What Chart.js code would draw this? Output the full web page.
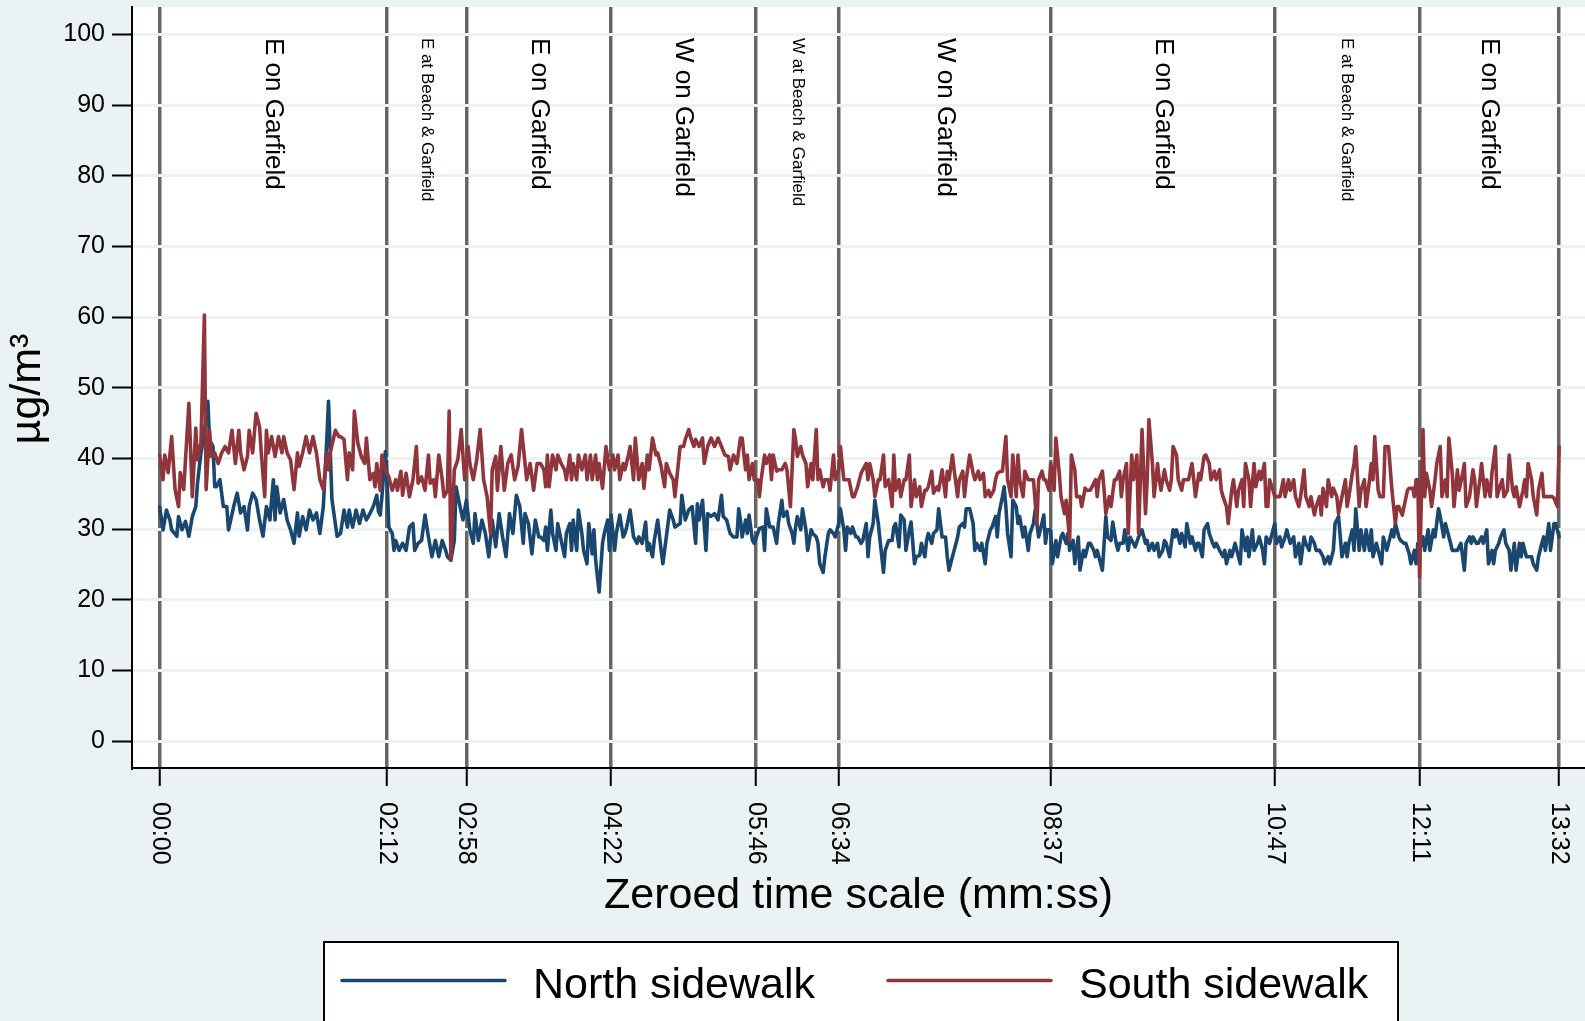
<!DOCTYPE html>
<html>
<head>
<meta charset="utf-8">
<title>Sidewalk PM readings</title>
<script src="https://cdn.jsdelivr.net/npm/chart.js@4.4.1/dist/chart.umd.min.js"></script>
<style>
  html, body { margin: 0; padding: 0; background: #eaf2f3; }
  #chart { display: block; }
</style>
</head>
<body>
<canvas id="chart" width="1585" height="1021"></canvas>
<script>
// Route segment boundaries (seconds) and their axis labels
const markSec = [0, 132, 178, 262, 346, 394, 517, 647, 731, 812];
const markLabels = ['00:00', '02:12', '02:58', '04:22', '05:46', '06:34', '08:37', '10:47', '12:11', '13:32'];
const segmentNames = ['E on Garfield', 'E at Beach & Garfield', 'E on Garfield', 'W on Garfield',
  'W at Beach & Garfield', 'W on Garfield', 'E on Garfield', 'E at Beach & Garfield', 'E on Garfield'];
const yTicks = [0, 10, 20, 30, 40, 50, 60, 70, 80, 90, 100];

// [seconds, µg/m³]
const northReadings = [
  [0,33.2],[2,29.9],[4,32.7],[6,31.3],[7,29.9],[10,29],[11,31.8],[13,29.9],[15,31.1],[17,29],[19,31.8],[21,33.2],[22,36.5],[24,40.8],[26,43.6],[28,48.1],[29,42.6],[31,41.7],[32,36],[33,36],[35,37],[37,33.2],[39,33.2],[40,29.9],[43,33.2],[45,35.1],[47,32.3],[49,33.2],[51,29.9],[52,33.2],[54,35.1],[56,34.2],[58,31.3],[60,29],[62,33.2],[64,31.3],[66,37],[67,31.3],[68,36],[70,32.3],[72,34.2],[74,31.3],[76,29.9],[78,28],[80,32.3],[81,29],[83,31.8],[85,29.9],[87,32.7],[89,31.3],[91,32.3],[93,29.4],[95,33.2],[97,42.6],[98,48.1],[100,34.2],[103,29],
  [105,29.4],[107,32.7],[109,30.3],[110,32.7],[112,30.3],[114,32.7],[116,30.8],[118,32.7],[120,31.3],[122,32.2],[124,33.2],[126,34.8],[127,32.5],[128,32],[129,34.6],[131,41],[132,37],[133,30.3],[135,29.4],[136,27],[137,28.4],[139,27],[141,28],[143,27],[145,30.3],[147,30.8],[148,27],[150,28],[152,28.4],[154,32],[156,28.9],[158,26.1],[160,28.4],[162,26.1],[164,28.4],[166,27],[167,26.1],[169,25.6],[171,28.4],[172,36],[174,33.6],[176,31.3],[178,34.1],[180,29.9],[182,28],[183,32.2],[185,28.4],[187,31.3],[189,29.4],[191,26.1],[193,31.3],[195,27.5],[197,32.2],[199,28.9],[201,26.1],[203,32.2],[205,29.4],[207,34.8],[209,33.2],[211,28],[212,32.2],[214,30.8],[216,26.5],[218,31.3],[220,28.9],
  [221,28.9],[223,28.4],[224,30.3],[225,27],[227,32.7],[228,29.4],[230,27],[231,30.8],[233,28.4],[235,26.1],[236,29.4],[238,30.8],[239,27],[240,31.3],[242,27],[243,32.7],[245,29.4],[246,27],[248,25.1],[249,30.8],[251,26.5],[252,29.9],[253,25.6],[255,21.1],[257,28],[258,29.4],[260,31.3],[261,27],[262,32],[264,27],[265,29.4],[267,32],[269,28.9],[270,29.4],[271,30.3],[273,32.7],[275,28.9],[277,28],[278,28.9],[280,28],[282,31],[283,27],[284,28],[286,26.1],[287,28.4],[289,31.3],[291,27],[292,25.1],[294,28.9],[296,32.7],[298,31.3],[299,30.3],[302,30.8],[303,34.8],[305,31.3],[307,32.7],[309,33.2],[311,28],[312,33.6],[313,31.3],[315,34.1],[317,27],[318,32.2],[320,31.8],[322,32.2],[324,31.3],[326,34.8],[327,31.8],[329,31.3],[331,29.4],[333,28.9],[335,28.9],[336,32.9],
  [337,31.3],[338,28.9],[340,31.3],[341,29.4],[342,32],[344,28.4],[345,28],[347,29.4],[348,30.1],[350,30.3],[351,27],[352,32.9],[354,30.3],[355,30.3],[356,30.3],[358,28],[359,30.8],[361,34.1],[362,31.8],[364,32.5],[365,30.8],[367,29.4],[368,28],[369,30.3],[370,31.8],[372,29.9],[373,32.9],[375,29.9],[376,27],[378,29.9],[379,29.4],[381,28.9],[382,28],[383,25.1],[385,23.9],[386,26.1],[388,29.4],[389,29.9],[391,29.4],[392,28.9],[394,30.8],[395,32.9],[397,29.9],[398,27],[399,30.3],[401,29.4],[402,30.3],[404,28.9],[405,28.9],[407,28],[408,28.4],[410,30.8],[411,26.1],[412,28.9],[414,30.8],[415,34.1],[417,30.8],[418,28.4],[420,23.9],[421,27],[423,28.4],[425,28.4],[426,30.3],[427,30.8],[429,27.5],[430,32],[432,31.3],[433,27],[435,29.9],[436,31],[438,25.1],[439,26.1],[441,26.3],[442,28],[444,26.1],[445,28.4],[446,29.4],[448,28],[449,29.4],[451,29.9],[452,32.9],
  [454,28.9],[456,28.9],[457,26.1],[458,24.2],[460,26.1],[461,27],[463,28.9],[464,30.3],[466,30.8],[467,30.3],[468,32.9],[470,32.9],[472,30.8],[473,27],[474,28],[476,27],[477,28],[479,25.1],[480,28],[482,29.9],[483,30.3],[485,31.8],[486,28.9],[487,32.2],[489,34.6],[490,36],[491,33.2],[492,29.4],[494,26.1],[495,34.1],[497,33.2],[498,30.8],[499,31.8],[501,28.9],[502,30.3],[504,27],[505,29.4],[507,30.8],[508,32.7],[510,28.9],[511,29.9],[513,32],[514,28],[515,29.9],[517,29.9],[518,25.1],[520,28.4],[521,26.1],[523,28.9],[524,29.4],[526,28],[527,29.4],[528,27],[530,28.4],[531,25.1],[533,28.9],[534,24.2],[536,27],[537,26.1],[539,28],[540,28],[542,27],[543,26.1],[544,27],[546,25.1],[547,24.2],[549,31.8],[550,28.9],[552,28.4],[553,31],[555,28],[556,27],[557,28],[559,28],[560,29.9],[562,27],[563,28.9],[565,28],[566,27.5],[568,28.9],
  [570,29.9],[572,28],[573,28.4],[574,27],[576,28],[577,27],[579,28],[580,26.1],[582,27],[583,28.4],[584,28],[586,26.1],[588,29.9],[589,28.9],[590,29.9],[592,28],[593,29.4],[595,27.5],[596,30.8],[598,28],[599,28.9],[601,27],[602,28],[603,28],[605,26.1],[606,29.9],[608,30.8],[609,29.4],[611,28],[612,27.5],[613,28],[615,27],[617,26.1],[618,27],[619,25.1],[621,27],[622,26.1],[624,28],[625,27],[627,25.1],[628,29.9],[630,27],[631,28.9],[632,26.1],[634,29.9],[635,27],[637,28],[638,28.9],[640,27],[641,25.1],[642,28.9],[644,28],[646,29.9],[647,30.8],[648,28],[650,28.9],[651,27.5],[653,28.9],[654,29.9],[656,28],[658,28.9],[659,26.1],[661,28],[662,25.1],[664,28.9],[665,28],[667,27],[668,28.9],[670,28],[671,27],[673,27],[675,26.1],[676,25.1],[678,26.1],[679,25.1],[681,27],[682,30.8],[684,31.8],
  [686,26.1],[688,28],[689,26.1],[690,28],[692,29.9],[693,27],[694,32.9],[696,27],[697,29.9],[699,27],[700,29.9],[702,27],[703,29.9],[704,26.1],[706,28],[707,27],[709,25.1],[710,28.9],[712,27],[713,28],[715,29.9],[716,28.9],[717,30.8],[719,28.9],[720,28.4],[722,28],[723,28],[725,26.5],[726,25.1],[728,27],[729,25.1],[730,28],[731,27],[733,28.9],[734,27],[736,29.9],[737,27],[739,29.9],[740,28.9],[742,32.9],[743,31.8],[745,28.9],[746,30.8],[747,29.9],[749,28],[750,27],[752,27],[753,27],[755,28],[757,24.2],[758,28],[760,28.9],[761,28],[762,28.9],[764,28],[765,28],[767,28.9],[768,28],[770,29.9],[771,25.1],[773,27],[774,25.1],[775,27],[777,28],[778,28.9],[780,29.9],[781,28],[783,27],[784,24.2],[786,28],[787,24.2],[789,28],[790,26.1],[791,28],[793,26.1],[794,26.1],[796,26.1],[797,25.1],[799,24.2],[800,26.1],[802,28],[803,28.9],[804,27],[806,30.8],[807,27],[809,30.8],[810,30.8],[812,28.9]
];

const southReadings = [
  [0,40.5],[2,37],[3,40.5],[5,38],[7,43.1],[9,35.6],[11,33.2],[12,38],[14,35.6],[17,47.8],[19,34.6],[21,44.3],[22,39.8],[24,42.2],[26,60.3],[27,35.6],[29,44],[30,40.3],[32,40.8],[34,39.3],[36,40.8],[38,41.7],[40,40.8],[42,44],[44,39.3],[46,44],[47,40.8],[49,38.4],[51,40.3],[52,44],[54,40.8],[56,46.4],[58,44.5],[59,40.8],[61,34.6],[62,44],[63,40.8],[65,43.1],[67,40.3],[69,43.1],[71,40.8],[72,43.1],[74,40.8],[76,39.8],[78,35.6],[80,40.8],[81,38.9],[83,40.8],[85,43.1],[87,40.8],[89,43.1],[91,40.8],[93,37],[95,35.6],[97,40.8],[98,38.4],[99,40.8],[102,44],[104,43.1],
  [105,43.1],[107,42.7],[109,37],[110,40.8],[112,38.4],[113,46.7],[115,42.2],[117,40.3],[119,39.3],[120,42.9],[122,37],[124,37.9],[125,36],[126,39.3],[128,35.5],[129,40.5],[131,38.4],[133,37.4],[135,35.5],[137,37],[138,35.5],[140,38.2],[141,34.8],[143,37.9],[145,34.6],[147,37],[149,41.7],[150,36.5],[152,37.4],[154,35.5],[156,40.5],[157,36.5],[159,37],[160,34.6],[162,40.5],[164,37],[165,34.6],[167,35.5],[168,46.7],[169,25.6],[171,38.4],[173,39.8],[175,44.1],[177,37],[179,41.7],[180,39.3],[182,37],[184,39.8],[186,44.1],[188,37],[190,34.6],[192,29.4],[193,38.4],[195,40.3],[196,35.5],[198,41.7],[200,35.5],[202,39.3],[204,40.5],[206,37],[208,38.9],[210,44.1],[211,41.7],[213,37],[215,39.3],[217,35.5],[219,39.3],
  [221,39.3],[223,38.4],[224,36],[225,40.5],[226,36],[228,40.5],[230,38.4],[231,40.5],[233,39.3],[235,38.4],[236,37],[238,40.5],[239,37],[240,39.3],[242,37],[243,40.5],[245,38.4],[247,40.5],[248,37],[250,40.5],[251,37],[253,40.5],[254,37],[255,39.3],[257,35.8],[259,41.7],[261,38.4],[263,40.5],[264,38.4],[266,40.5],[267,37],[269,39.3],[270,38.4],[272,40.5],[273,41.7],[275,37],[276,42.9],[278,37],[280,39.3],[281,35.8],[283,40.5],[284,38.4],[286,42.9],[288,40.5],[289,40.8],[291,38.9],[293,36],[294,39.3],[296,37.9],[298,37],[299,34.6],[300,37],[302,41.7],[304,41.7],[305,42.7],[307,44.1],[308,43.1],[310,41.7],[311,42.7],[313,41.7],[315,42.9],[316,39.3],[318,41.7],[320,42.9],[322,41.7],[324,42.9],[326,41.7],[328,40.5],[330,40.3],[331,38.4],[333,40.5],[335,39.3],
  [337,42.9],[338,42.9],[340,38.4],[341,40.5],[342,37],[344,39.3],[345,37],[347,37],[348,34.6],[349,37],[351,40.5],[352,39.3],[354,40.5],[355,37],[356,40.5],[358,38.2],[359,38.4],[361,38.4],[363,39.3],[364,38.4],[366,33.2],[368,44.1],[369,42.7],[370,40.3],[372,41.7],[373,40.5],[375,39.3],[376,36],[378,39.3],[379,37],[381,44.1],[382,37],[383,38.4],[385,36],[386,37],[388,37],[389,35.5],[391,40.5],[392,37],[394,38.4],[395,41.7],[397,37],[398,37],[400,37],[402,34.6],[403,34.6],[405,36],[407,37.9],[408,38.4],[410,39.3],[411,37],[412,39.3],[414,37],[415,34.6],[417,37],[418,37],[420,40.5],[421,36],[423,37],[425,33.2],[426,40.5],[427,35.5],[429,37],[430,34.6],[432,37],[433,37],[435,40.5],[436,33.2],[438,37],[439,34.6],[441,36],[442,33.2],[444,35.5],[445,35.5],[446,36],[448,38.2],[449,35.1],[451,36],[452,35.5],
  [454,38.4],[456,34.6],[457,38.2],[458,37],[460,40.5],[461,38.4],[463,34.6],[464,37],[466,38.2],[467,34.6],[468,37],[470,40.5],[472,37.9],[473,37],[475,38.2],[476,37],[478,37.9],[479,34.6],[481,35.5],[482,34.6],[484,35.5],[485,37],[486,37.9],[488,38.2],[489,38.2],[491,43.1],[492,37],[494,34.6],[495,40.5],[497,34.6],[498,40.5],[499,37],[501,34.6],[502,38.2],[504,37],[505,37],[507,37],[509,30.8],[510,37],[512,38.2],[513,37],[514,37],[516,35.5],[517,39.3],[519,35.5],[520,42.9],[522,37.9],[523,34.6],[525,32.2],[526,34.1],[528,28.4],[529,40.5],[531,38.4],[532,34.6],[534,34.6],[535,33.2],[537,35.8],[538,35.5],[540,35.5],[541,36],[543,37],[544,34.6],[545,37],[547,38.2],[548,35.5],[549,32.2],[551,34.6],[552,33.2],[554,37],[555,37],[557,38.2],[558,34.6],[559,37],[561,39.3],[562,29.4],[564,40.5],[565,37],[567,40.5],[568,29.4],
  [570,44.1],[572,32.2],[573,37],[574,45.5],[576,39.3],[577,34.6],[579,39.3],[580,37],[581,35.5],[583,38.4],[584,37],[586,35.5],[587,37],[588,41.7],[590,40.5],[591,37],[593,35.5],[594,37],[596,37],[597,37],[599,39.3],[600,37],[601,34.6],[603,37.9],[604,37],[606,40.3],[607,40.5],[609,39.3],[610,37],[612,38.2],[613,37],[615,38.4],[616,35.5],[617,34.6],[619,33.2],[620,30.8],[622,35.5],[623,37],[625,33.2],[626,35.5],[628,37],[629,33.2],[630,39.3],[632,37],[633,33.2],[635,39.3],[636,36],[638,38.2],[639,37],[641,39.3],[642,33.2],[643,33.2],[644,37],[646,35.5],[647,34.6],[649,34.6],[650,34.6],[652,37],[653,34.6],[655,37],[656,35.5],[658,37],[659,34.6],[661,33.2],[662,34.6],[664,38.4],[665,34.6],[667,33.2],[668,34.6],[670,32],[671,33.2],[673,34.6],[674,32],[675,35.8],[677,33.2],[678,37],[680,34.6],[681,35.8],[683,34.6],[684,32.2],
  [686,34.6],[688,37],[689,33.2],[690,34.6],[692,37.9],[693,39.3],[694,41.7],[696,33.2],[697,35.5],[699,37],[700,33.2],[702,37],[703,39.3],[704,37],[705,43.1],[707,35.5],[708,34.6],[710,34.6],[711,41.7],[713,41.7],[715,35.5],[717,30.8],[718,33.2],[719,33.2],[721,32],[722,33.2],[724,35.5],[725,35.8],[727,35.8],[728,34.6],[729,37],[730,37],[731,23.2],[733,44.1],[734,34.6],[735,37.9],[737,35.5],[738,33.2],[740,37],[741,39.3],[743,41.7],[744,34.6],[746,37],[747,34.6],[748,42.9],[750,37.9],[751,33.2],[753,38.4],[754,35.5],[756,37.9],[757,39.3],[758,33.2],[760,34.6],[762,38.4],[763,37],[764,33.2],[766,37],[767,39.3],[769,34.6],[770,37],[772,34.6],[773,37.9],[775,41.7],[776,34.6],[777,35.5],[779,37],[780,34.6],[782,35.5],[783,40.5],[785,35.5],[786,34.6],[787,36],[789,33.2],[791,35.5],[792,37],[793,34.6],[794,39.3],[796,37],[797,34.6],[799,32],[800,35.5],[802,37.9],[803,34.6],[804,34.6],[806,34.6],[808,34.6],[809,34.4],[811,33.2],[812,41.7]
];

const FONT = '"Liberation Sans", Arial, Helvetica, sans-serif';
const BG = '#eaf2f3';
const NORTH_COLOR = '#1a476f';
const SOUTH_COLOR = '#90353b';

const toPoints = rows => rows.map(([s, v]) => ({ x: s, y: v }));

// Stata-like decorations: panel colours, rotated labels, titles, legend box
const decor = {
  id: 'decor',
  beforeDraw(chart) {
    const { ctx, chartArea: a } = chart;
    ctx.save();
    ctx.fillStyle = BG;
    ctx.fillRect(0, 0, chart.width, chart.height);
    ctx.fillStyle = '#fff';
    ctx.fillRect(a.left, a.top, a.right - a.left, a.bottom - a.top);
    ctx.restore();
  },
  afterDraw(chart) {
    const { ctx, chartArea: a } = chart;
    const xs = chart.scales.x;
    ctx.save();
    ctx.fillStyle = '#000';
    ctx.textAlign = 'left';
    ctx.textBaseline = 'middle';

    // x tick labels, turned clockwise
    ctx.font = `25px ${FONT}`;
    markSec.forEach((s, i) => {
      ctx.save();
      ctx.translate(xs.getPixelForValue(s), a.bottom + 34);
      ctx.rotate(Math.PI / 2);
      ctx.fillText(markLabels[i], 0, 0);
      ctx.restore();
    });

    // segment names between the markers
    segmentNames.forEach((name, i) => {
      const mid = (markSec[i] + markSec[i + 1]) / 2;
      ctx.font = `${name.includes('Beach') ? 17 : 26}px ${FONT}`;
      ctx.save();
      ctx.translate(xs.getPixelForValue(mid), a.top + 31);
      ctx.rotate(Math.PI / 2);
      ctx.fillText(name, 0, 0);
      ctx.restore();
    });

    // axis titles
    ctx.font = `43px ${FONT}`;
    ctx.textAlign = 'center';
    ctx.fillText('Zeroed time scale (mm:ss)', (a.left + a.right) / 2, 896);
    ctx.save();
    ctx.translate(28, 389);
    ctx.rotate(-Math.PI / 2);
    ctx.fillText('µg/m³', 0, 0);
    ctx.restore();

    // legend
    ctx.fillStyle = '#fff';
    ctx.fillRect(324, 942, 1074, 90);
    ctx.strokeStyle = '#000';
    ctx.lineWidth = 2;
    ctx.strokeRect(324, 942, 1074, 90);
    ctx.lineWidth = 3.5;
    ctx.lineCap = 'round';
    [[342, NORTH_COLOR, 'North sidewalk', 533], [888, SOUTH_COLOR, 'South sidewalk', 1079]].forEach(([lx, col, txt, tx]) => {
      ctx.strokeStyle = col;
      ctx.beginPath();
      ctx.moveTo(lx, 980.5);
      ctx.lineTo(lx + 163, 980.5);
      ctx.stroke();
      ctx.fillStyle = '#000';
      ctx.textAlign = 'left';
      ctx.fillText(txt, tx, 986);
    });
    ctx.restore();
  }
};

const lineStyle = { borderWidth: 3.6, pointRadius: 0, tension: 0, borderJoinStyle: 'round', borderCapStyle: 'round' };

new Chart(document.getElementById('chart').getContext('2d'), {
  type: 'line',
  data: {
    datasets: [
      { label: 'South sidewalk', data: toPoints(southReadings), borderColor: SOUTH_COLOR, order: 0, ...lineStyle },
      { label: 'North sidewalk', data: toPoints(northReadings), borderColor: NORTH_COLOR, order: 1, ...lineStyle },
    ],
  },
  options: {
    responsive: false,
    animation: false,
    devicePixelRatio: 1,
    layout: { padding: { top: 7, left: 0, right: 0, bottom: 0 } },
    plugins: { legend: { display: false }, tooltip: { enabled: false } },
    scales: {
      x: {
        type: 'linear',
        min: -16,
        max: 827,
        afterBuildTicks: s => { s.ticks = markSec.map(v => ({ value: v })); },
        afterFit: s => { s.height = 253; s.paddingLeft = 0; s.paddingRight = 0; },
        ticks: { display: false, autoSkip: false },
        grid: { color: '#666', lineWidth: 3.5, tickLength: 18, tickColor: '#000', tickWidth: 2 },
        border: { color: '#000', width: 2 },
      },
      y: {
        min: -3.8,
        max: 103.9,
        afterBuildTicks: s => { s.ticks = yTicks.map(v => ({ value: v })); },
        afterFit: s => { s.width = 132; s.paddingTop = 0; s.paddingBottom = 0; },
        ticks: { color: '#000', font: { family: FONT, size: 25 }, padding: 7 },
        grid: { color: BG, lineWidth: 3, tickLength: 20, tickColor: '#000', tickWidth: 2 },
        border: { color: '#000', width: 2 },
      },
    },
  },
  plugins: [decor],
});
</script>
</body>
</html>
